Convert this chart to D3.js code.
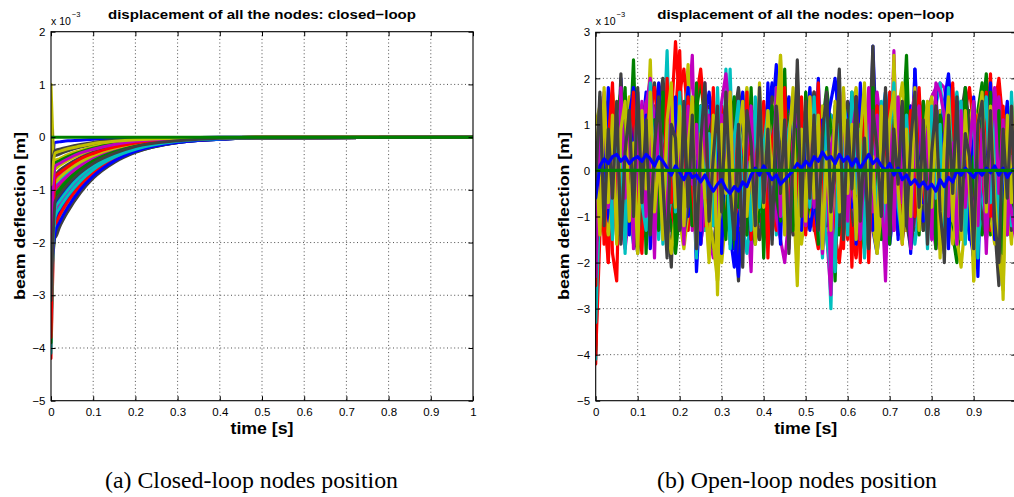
<!DOCTYPE html>
<html><head><meta charset="utf-8">
<script src="https://cdn.jsdelivr.net/npm/d3@7"></script>
<style>
html,body{margin:0;padding:0;background:#fff;}
svg{display:block;}
</style></head><body>
<svg id="chart" width="1014" height="497"></svg>
<script>
// MATLAB classic colour order: b, g, r, c, m, y, k
const colorOrder = ["#0000ff","#008000","#ff0000","#00bfbf","#bf00bf","#bfbf00","#404040"];

const xTicks = [0,0.1,0.2,0.3,0.4,0.5,0.6,0.7,0.8,0.9,1];
const xTicksOpenLabels = [0,0.1,0.2,0.3,0.4,0.5,0.6,0.7,0.8,0.9];
const yTicksClosed = [2,1,0,-1,-2,-3,-4,-5];
const yTicksOpen = [3,2,1,0,-1,-2,-3,-4,-5];

const titleClosed = "displacement of all the nodes: closed\u2212loop";
const titleOpen = "displacement of all the nodes: open\u2212loop";
const yLabel = "beam deflection [m]";
const xLabel = "time [s]";
const captionClosed = "(a) Closed-loop nodes position";
const captionOpen = "(b) Open-loop nodes position";

// closed-loop: sample times [s] and node deflections [x 1e-3 m]
const closedTimes = [0,0.01,0.02,0.04,0.07,0.1,0.15,0.2,0.3,0.4,0.5,1];
const closedNodes = [
[-1.5,-0.10,-0.09,-0.07,-0.06,-0.04,-0.03,-0.02,-0.01,0,0,0],
[-2.8,-1.85,-1.67,-1.37,-1.02,-0.76,-0.46,-0.28,-0.10,-0.04,-0.01,0],
[-4.2,-1.40,-1.26,-1.04,-0.77,-0.57,-0.35,-0.21,-0.08,-0.03,-0.01,0],
[-4.1,-1.05,-0.95,-0.78,-0.58,-0.43,-0.26,-0.16,-0.06,-0.02,-0.01,0],
[-2.8,-1.20,-1.08,-0.89,-0.66,-0.49,-0.30,-0.18,-0.07,-0.02,-0.01,0],
[1.0,-0.60,-0.54,-0.44,-0.33,-0.25,-0.15,-0.09,-0.03,-0.01,0,0],
[0.3,-0.35,-0.32,-0.26,-0.19,-0.14,-0.09,-0.05,-0.02,-0.01,0,0],
[-1.2,-1.75,-1.58,-1.30,-0.96,-0.72,-0.44,-0.26,-0.10,-0.04,-0.01,0],
[-2.2,-1.55,-1.40,-1.15,-0.85,-0.64,-0.39,-0.23,-0.09,-0.03,-0.01,0],
[-3.0,-1.30,-1.17,-0.96,-0.72,-0.53,-0.33,-0.20,-0.07,-0.03,-0.01,0],
[-3.6,-0.95,-0.86,-0.70,-0.52,-0.39,-0.24,-0.14,-0.05,-0.02,-0.01,0],
[-2.5,-0.80,-0.72,-0.59,-0.44,-0.33,-0.20,-0.12,-0.04,-0.02,-0.01,0],
[-1.1,-0.45,-0.41,-0.33,-0.25,-0.18,-0.11,-0.07,-0.02,-0.01,0,0],
[-0.4,-1.90,-1.71,-1.41,-1.05,-0.78,-0.48,-0.29,-0.10,-0.04,-0.01,0],
[-1.9,-1.60,-1.44,-1.18,-0.88,-0.66,-0.40,-0.24,-0.09,-0.03,-0.01,0],
[-3.3,-1.15,-1.04,-0.85,-0.63,-0.47,-0.29,-0.17,-0.06,-0.02,-0.01,0],
[-2.0,-1.00,-0.90,-0.74,-0.55,-0.41,-0.25,-0.15,-0.06,-0.02,-0.01,0],
[-2.9,-0.88,-0.79,-0.65,-0.48,-0.36,-0.22,-0.13,-0.05,-0.02,-0.01,0],
[-2.3,-1.45,-1.31,-1.07,-0.80,-0.59,-0.36,-0.22,-0.08,-0.03,-0.01,0],
[-1.2,-1.70,-1.53,-1.26,-0.94,-0.70,-0.43,-0.26,-0.09,-0.03,-0.01,0],
[-0.2,-0.70,-0.63,-0.52,-0.39,-0.29,-0.18,-0.11,-0.04,-0.01,0,0],
[-1.0,-1.25,-1.13,-0.93,-0.69,-0.51,-0.31,-0.19,-0.07,-0.03,-0.01,0],
[-3.9,-0.50,-0.45,-0.37,-0.28,-0.21,-0.13,-0.08,-0.03,-0.01,0,0],
[-1.6,-1.65,-1.49,-1.22,-0.91,-0.68,-0.41,-0.25,-0.09,-0.03,-0.01,0],
[-3.4,-1.35,-1.22,-1.00,-0.74,-0.55,-0.34,-0.20,-0.07,-0.03,-0.01,0],
[-2.1,-0.98,-0.88,-0.73,-0.54,-0.40,-0.25,-0.15,-0.05,-0.02,-0.01,0],
[0.5,-0.85,-0.77,-0.63,-0.47,-0.35,-0.21,-0.13,-0.05,-0.02,-0.01,0],
[-0.6,-0.25,-0.23,-0.19,-0.14,-0.10,-0.06,-0.04,-0.01,0,0,0],
[-2.6,-1.80,-1.62,-1.33,-0.99,-0.74,-0.45,-0.27,-0.10,-0.04,-0.01,0],
[-1.4,-1.10,-0.99,-0.81,-0.61,-0.45,-0.28,-0.17,-0.06,-0.02,-0.01,0],
[-3.8,-0.75,-0.68,-0.56,-0.41,-0.31,-0.19,-0.11,-0.04,-0.02,-0.01,0],
[-2.7,-1.50,-1.35,-1.11,-0.83,-0.62,-0.38,-0.23,-0.08,-0.03,-0.01,0],
[-1.8,-0.55,-0.50,-0.41,-0.30,-0.23,-0.14,-0.08,-0.03,-0.01,0,0],
[-0.9,-0.30,-0.27,-0.22,-0.17,-0.12,-0.08,-0.05,-0.02,-0.01,0,0],
[-3.1,-1.22,-1.10,-0.90,-0.67,-0.50,-0.31,-0.18,-0.07,-0.02,-0.01,0]
];

// clamped node (stays at zero) [x 1e-3 m]
const zeroTimes = [0,1];
const zeroNode = [0,0];

// open-loop: one sample every 0.01 s, values in units of 1e-4 m
const openStep = 0.01;
const openNodes = [
[-15,8,-6,12,3,-9,20,5,-4,11,-7,2,13,-10,6,9,-3,14,-12,4,10,-8,1,7,-22,-5,12,-9,3,-14,6,15,-2,9,-16,4,-11,8,13,-6,2,-10,11,23,5,-8,14,-3,-13,7,10,-5,3,16,-11,6,-15,9,-2,12,-8,4,15,-6,10,-12,27,3,-9,8,-14,11,2,-7,16,-4,22,-10,5,13,-6,9,-12,3,14,-9,7,-3,11,-15,4,-23,8,12,-5,10,-11,6,15,-8,3],
[-28,10,-4,15,-9,6,12,-7,3,24,-5,9,-12,4,14,-8,2,-13,11,6,-9,13,-3,8,-14,5,10,-6,16,-10,3,-8,12,7,-11,9,-4,14,-7,2,11,-13,6,10,-5,22,-9,4,-12,8,13,-6,2,-10,9,15,-8,-24,5,11,-7,3,12,-14,8,-4,10,-9,14,1,-6,9,-11,7,25,-3,10,-12,4,13,-8,6,-10,11,3,-13,9,-5,15,-2,7,-9,12,5,-14,8,-4,10,-11,3,9],
[-42,7,-13,10,-18,-24,12,-6,9,-15,4,13,-9,8,-4,16,-10,6,11,28,14,-7,9,-12,5,13,-3,-9,7,-11,10,-5,14,3,-10,8,-14,11,-2,6,-9,12,4,-8,15,-5,9,-11,3,10,-7,13,-3,8,-12,6,11,-16,4,-9,7,-21,12,-6,9,-13,5,10,-4,-15,8,14,-7,3,-10,11,6,-9,13,-3,9,-11,5,15,-6,10,-13,4,8,-7,12,-4,-10,7,21,-8,13,-5,9,-12,16],
[-41,9,-14,5,11,-8,13,-4,8,-12,6,-9,12,-3,10,-15,4,26,-7,11,-5,14,3,-11,9,-6,12,-10,5,8,-13,22,-4,10,-8,6,-12,13,2,-9,11,-6,8,-14,4,12,-3,9,-11,7,-5,14,-9,6,11,-7,-30,8,-12,10,-4,13,-8,5,-16,9,12,-6,3,-11,10,-7,14,-3,8,-10,6,11,-5,-13,9,4,-8,15,-6,12,-11,7,3,-9,13,-5,10,-12,6,17,-8,4,-14,11,-3],
[-28,12,-7,9,-14,5,10,-10,4,13,-6,8,-12,11,3,-9,14,-5,7,-11,9,-4,12,25,-8,6,-13,10,2,-10,13,-5,8,-12,4,11,-7,-22,9,-3,6,-11,14,-6,3,10,-9,12,-4,8,-13,5,11,-8,7,-14,-27,9,-5,12,-10,4,13,-7,8,-11,6,10,-3,-24,7,12,-9,5,-13,10,-4,14,-8,3,-10,11,6,-12,9,-5,13,-7,4,-11,8,12,-6,3,-10,14,-8,9,-13,5,11],
[10,14,-8,6,11,-13,4,9,-6,12,-10,7,3,24,-5,10,-12,8,-3,13,-7,9,5,-11,12,-4,7,-14,10,-27,6,-9,13,-3,8,-12,11,4,-8,10,-5,13,-10,6,9,-7,12,-4,-25,8,5,-11,14,-6,9,-13,3,10,-8,12,-4,7,-12,11,5,-9,13,-6,8,-10,12,3,-11,9,-5,14,-8,6,-13,10,-3,8,-10,13,-7,5,11,-12,9,-4,7,-14,12,-6,10,-9,4,-28,11,-5,8],
[3,8,13,-9,7,-4,21,-10,5,11,-7,12,-3,9,-12,6,10,-8,-21,4,13,-6,9,-11,7,3,-10,14,-5,8,-9,12,4,-7,-24,6,11,-8,3,-12,10,-5,13,-9,7,4,-11,12,-6,9,-3,11,-13,8,5,-10,12,-7,9,-4,14,-8,6,-12,10,3,27,-9,11,-6,7,-13,9,-4,12,-8,5,10,-11,6,-5,13,-9,7,3,-12,11,-6,9,-10,12,-3,8,-13,6,10,-9,5,-7,11,-4],
[-12,-6,10,-3,14,-8,2,11,-13,5,9,-4,7,15,-2,13,-9,4,10,-7,3,12,-11,6,-5,14,-8,1,-12,9,-3,10,7,-14,-23,-6,8,-10,12,2,-9,13,4,-7,11,-2,-12,8,5,-10,6,15,-4,20,-8,9,-13,3,10,-6,12,-9,2,14,-5,7,-11,16,-3,8,-10,4,13,-7,9,-14,22,6,-4,10,-8,12,3,-11,7,15,-6,2,-9,11,-3,8,-13,5,14,-7,10,-2,-12,6,9],
[-22,-8,12,5,-10,14,-3,9,-13,6,11,-5,8,-9,3,13,-7,10,-2,-11,7,12,-6,4,-10,9,2,-12,15,-4,8,-9,6,11,-5,-13,10,3,-8,12,-3,7,-11,9,5,-7,13,-10,4,8,-12,6,11,-4,9,-8,2,14,-6,-10,10,-3,7,-11,12,5,-8,9,-13,4,11,-6,8,-2,-10,13,6,-9,3,10,-7,12,-4,8,-11,5,9,-6,14,-3,-9,7,11,21,-5,10,-12,4,8,-7,12],
[-30,-10,6,-20,11,-7,3,13,-11,8,-5,9,14,-8,6,-12,10,4,-9,12,26,-6,11,3,-13,8,-4,12,-10,5,14,-7,2,10,-11,6,17,-9,4,13,-6,9,-12,7,3,-10,11,-4,14,-8,5,-11,10,2,-7,13,-14,8,-5,-17,11,-9,6,-20,12,3,-8,10,-12,7,-4,13,-10,5,9,-6,12,-3,8,-11,15,-7,4,11,-9,17,-5,10,-12,6,-8,13,3,-10,9,-14,18,-6,11,-4,7],
[-36,5,10,-9,3,-12,7,12,-6,9,-11,4,8,-7,13,2,-10,6,-4,11,-9,8,-13,5,12,-5,9,-8,3,-14,7,10,-6,13,-3,-11,8,4,-10,9,6,-7,12,-4,9,-13,3,11,-8,5,-10,9,7,-12,4,13,-6,-15,10,2,-9,12,-5,8,-19,6,11,-7,3,14,-8,5,-11,10,2,-6,13,-9,7,-3,11,-12,6,9,-4,18,-7,3,-10,12,-5,8,-13,4,10,-8,14,-6,2,-11,9],
[-25,-9,11,-5,8,-12,6,13,-8,3,10,-13,5,9,-7,12,-4,8,-10,6,-11,14,-3,7,-9,11,-6,4,12,-8,5,-10,13,-4,9,-12,7,3,-9,11,-6,8,-13,10,-3,6,12,-9,4,-7,11,-5,9,-11,13,-4,-18,7,-10,6,12,-8,3,-12,10,5,-9,13,-6,8,-11,26,-7,4,11,-10,6,-5,9,13,16,18,19,18,12,4,-8,11,-6,9,-12,7,3,-9,12,-5,8,-11,6,10,-7],
[-11,-7,10,-12,5,13,-4,8,-9,11,3,-10,9,-6,12,-8,5,14,-11,7,-4,10,23,-8,6,-13,11,-5,9,-15,4,12,-7,10,-11,5,8,-14,13,-3,9,-8,11,-5,25,-10,6,12,-16,4,-9,13,-6,10,-12,7,3,-11,9,-4,14,-7,11,-10,5,12,-8,9,-3,11,-12,25,-6,8,-10,13,4,-9,11,-5,8,-13,10,6,-11,12,-7,3,-10,9,-24,11,-5,13,-9,7,-12,10,-4,14,-8],
[-4,11,-8,5,13,-10,7,-5,9,12,-9,6,10,-13,4,8,-6,12,3,-10,9,-5,13,-8,6,11,-12,4,10,-7,5,-11,12,-6,9,-3,13,-10,7,4,-9,12,-5,8,-11,6,10,-7,24,-4,8,-12,11,5,-8,13,-6,9,22,-10,6,11,-9,4,-12,8,13,-5,10,-8,3,12,-10,7,-6,11,-13,9,4,-9,12,-5,8,-20,10,6,-11,13,-7,4,-10,9,12,-6,7,-12,-25,10,-8,12,5],
[-19,5,-8,3,9,-4,-10,7,2,-6,8,-11,4,-3,10,-7,6,1,-9,5,-2,9,-6,11,-4,3,-8,7,-12,2,6,-5,10,-9,4,8,-3,-10,5,9,-6,3,11,-8,7,-2,12,-5,1,-9,8,4,-7,10,-3,-11,6,9,-4,2,-8,11,5,-6,3,9,-10,7,-2,12,-5,6,-9,8,2,-7,10,-4,11,-8,4,-3,9,-10,6,12,-5,3,-7,8,-12,5,10,-4,-9,7,2,-11,9,-3,6],
[-33,4,9,-7,2,-10,6,11,-4,8,-9,3,12,-6,-11,7,4,-8,10,-2,9,-5,6,-10,11,3,-7,8,-3,-12,5,10,-6,2,9,-11,7,-4,12,-8,3,8,-10,6,-2,11,-9,4,7,-5,10,-7,3,12,-11,5,-4,8,-14,6,9,-6,11,2,-9,7,-3,12,-8,4,-11,6,9,-5,3,-8,10,-2,7,-10,12,-4,5,-9,8,2,-12,10,-6,3,9,-7,4,11,-10,6,-3,8,-9,12,-4],
[-20,6,-9,-20,8,-5,11,-13,4,9,-7,12,-3,6,-10,8,2,-11,10,-5,7,-8,13,-4,9,-12,5,10,-6,3,-9,11,-3,7,-12,6,10,-5,8,-10,4,12,-7,2,-9,11,-4,8,-13,6,10,-3,7,-11,12,-6,4,-9,8,-14,5,-12,9,-5,11,-8,3,13,-10,6,-2,10,-9,7,-13,4,11,-6,9,-4,8,-12,13,-7,3,10,-9,6,-11,5,12,-5,8,-10,4,16,-8,11,-3,9,-6],
[-29,7,-5,10,-8,3,9,-11,6,4,-7,10,-3,8,-12,5,11,-6,2,-9,12,-4,7,-10,3,9,-7,11,-5,6,-11,4,9,-6,12,-3,7,-10,8,2,-8,11,-5,6,10,-12,4,-7,9,3,-10,7,12,-4,8,-9,5,-13,11,-2,6,-11,9,4,-7,12,-5,8,-10,3,11,-6,7,-9,13,2,-8,10,-4,6,-12,9,3,-7,11,-5,8,-10,12,-2,5,-9,10,-6,3,11,-8,7,-12,4,10],
[-23,4,-10,7,2,-8,11,-5,9,-3,6,-11,8,3,-7,10,-9,5,12,-4,8,-6,3,11,-10,6,-4,9,-12,7,2,-9,11,-5,8,-13,4,10,-7,6,-11,9,3,-8,12,-4,7,-10,5,11,-6,8,-12,4,10,-9,6,-7,13,-3,9,-10,5,12,-6,3,-11,8,-4,10,-7,6,-12,9,3,-8,11,-5,7,-10,4,12,-9,6,-3,10,-7,8,-12,5,11,-6,3,-10,8,-4,12,-9,6,-2,8],
[-12,6,-9,11,-4,8,-7,3,10,-11,5,9,-6,12,-3,-10,7,4,-8,11,-5,8,-12,6,10,-7,3,12,-9,5,-4,11,-10,7,2,-8,12,-6,9,-11,4,10,-7,13,-5,8,-12,6,3,-9,11,-4,7,-10,9,5,-13,10,-6,8,-3,12,-9,6,11,-7,4,-10,13,-5,8,-11,10,3,-6,12,-9,7,-4,11,-8,5,10,-12,6,-3,9,-10,12,-6,4,11,-8,7,-12,9,-5,13,-7,6,-10],
[-2,9,-6,4,10,-9,3,11,-7,6,-10,8,-4,12,-7,5,9,-11,7,2,-8,11,-5,9,3,-12,7,-6,10,-3,8,-10,6,12,-8,-14,5,11,-7,9,-4,7,-11,10,6,-9,12,-3,8,-12,5,10,-7,9,-5,13,-10,4,11,-8,7,-12,9,3,-9,11,-6,8,-4,12,-10,6,9,-8,12,-5,3,-11,10,-7,8,4,-12,11,-6,9,-9,6,12,-4,-8,10,-5,7,-11,12,3,-9,8,-14,6],
[-10,7,-4,9,-12,5,11,-6,8,-3,12,-9,4,10,-7,13,-2,-11,6,9,-5,12,-8,3,10,-13,7,-4,11,-9,5,8,-12,6,-3,10,-7,12,-10,4,9,-6,13,-3,7,-11,5,10,-8,2,12,-9,6,-4,11,-12,3,8,-7,13,-5,9,-10,4,12,-6,7,-13,10,-3,8,-9,11,5,-7,12,-4,9,-11,6,3,-10,12,-6,8,-12,4,10,-5,13,-8,6,-3,11,-9,7,12,-6,4,-10,8],
[-39,10,-6,8,-11,4,13,-8,6,-12,9,3,-10,12,-5,7,-13,10,2,-8,11,-6,9,-12,4,14,-7,5,-10,11,-3,8,-13,6,10,-9,4,12,-6,-11,7,13,-5,9,-12,3,10,-8,6,-4,12,-10,5,8,-13,11,-3,7,-9,12,4,-11,10,-6,9,-3,13,-8,5,-12,10,-5,7,-13,11,3,-9,12,-6,8,-11,5,13,-7,4,-10,9,-4,12,-8,6,-12,10,3,-9,11,-6,8,-13,5,9],
[-16,-5,11,-9,6,12,-4,9,-13,7,3,-10,11,-6,13,-8,5,9,-12,4,10,-7,12,-3,8,-11,6,13,-9,2,-8,11,-5,9,-12,7,4,-10,12,-6,8,-13,5,10,-4,12,-9,6,-11,9,3,-7,13,-10,6,-4,11,-12,8,-5,12,-8,4,-11,10,-6,9,-3,13,-10,6,11,-7,3,-12,9,-5,10,-8,12,-4,7,-13,11,-6,9,4,-10,8,-3,13,-9,6,-5,11,-12,7,3,-8,10,-6],
[-34,8,-11,6,10,-5,12,-9,3,11,-7,9,-12,5,8,-4,13,-10,7,-6,11,4,-9,12,-7,6,-13,9,3,-10,12,-5,22,-8,6,-11,10,-4,8,-12,5,11,-7,13,-3,-10,9,6,-12,8,-6,10,-9,4,12,-8,-14,11,-5,7,-11,9,3,-13,-12,8,5,-7,12,-4,10,-9,6,12,-10,3,11,-7,8,-5,-9,12,4,-11,7,-3,13,-8,6,-12,9,-6,11,-10,5,8,-4,12,-7,10,-9],
[-21,9,-7,12,-4,8,-10,6,13,-8,4,-12,10,-5,7,11,-9,3,-6,12,-10,8,5,-13,11,-3,9,-7,12,-11,6,-4,10,-9,13,-6,3,-12,8,5,-8,11,-3,7,-10,12,-5,9,-13,6,10,-8,4,-11,13,-7,-16,10,-4,8,-12,6,11,-3,9,-10,7,-5,12,-9,4,10,-8,13,-6,9,-12,5,-3,11,-9,7,12,-5,8,-11,3,10,-7,13,-4,9,-12,6,11,-8,5,-10,12,-6,7],
[5,12,-9,6,-3,11,-8,10,-12,4,9,-6,13,-10,7,-4,12,-8,5,11,-7,9,-12,4,10,-6,13,-9,3,-14,8,-5,11,-10,6,9,-4,12,-8,5,-11,10,3,-7,25,-9,6,11,-13,4,9,-5,12,-8,7,-11,10,4,-9,13,-6,8,-12,5,10,-3,9,-7,12,-10,6,11,-5,8,-13,9,-4,12,-7,3,10,-9,6,-12,11,-5,8,-10,4,12,-24,7,9,-6,13,-8,5,-11,10,-14,6],
[-6,10,-7,4,12,-9,6,-5,11,-8,3,13,-10,7,-4,9,-12,5,10,-6,8,-11,12,-3,6,-9,11,4,-10,7,-5,12,-8,9,-13,5,10,-6,8,-11,4,-7,13,-9,6,11,-4,8,-12,10,-3,7,-10,12,-6,9,-13,4,11,-8,6,-11,10,-5,13,-7,3,-10,12,-4,9,-12,6,8,-9,11,-5,7,-13,10,3,-8,12,-6,9,-10,5,11,-7,4,-12,10,-3,8,-9,13,-6,5,-11,12,-5],
[-26,-4,9,-11,6,13,-7,4,-10,8,11,-5,7,-12,10,3,-8,12,-6,9,-13,6,10,-4,8,-11,12,-7,5,-9,11,3,-10,13,-6,8,-12,4,9,-7,12,-5,6,-10,11,-8,3,13,-9,7,-4,10,-12,8,5,-11,12,-6,9,-3,13,-9,6,-7,11,4,-12,10,-5,8,-10,7,12,-4,9,-13,6,10,-8,3,11,-6,8,-12,5,13,-7,4,-11,9,-5,12,-9,7,3,-10,11,-6,8,-12,5],
[-14,6,-10,8,3,-12,9,-5,11,-7,12,-4,8,-11,6,10,-8,13,-3,7,-9,11,5,-12,8,-6,10,-10,4,12,-7,9,-4,13,-11,6,3,-9,11,-5,8,-12,10,-6,4,12,-9,7,-3,11,-10,5,9,-7,13,-4,8,-12,6,10,-5,12,-8,3,-11,9,-6,11,4,-9,13,-7,5,-10,12,-3,8,-12,9,-6,7,4,-11,10,-8,12,-5,6,-9,13,-3,8,-12,11,-6,9,4,-10,7,-8,12],
[-38,11,-8,5,-12,9,-6,12,3,-10,8,-4,13,-9,6,-11,10,-5,7,12,-8,5,-13,9,11,-6,4,-10,12,-7,9,-3,11,-12,6,8,-9,13,-5,4,-11,10,-6,12,-4,8,-13,7,5,-9,11,-7,3,-12,10,6,-8,12,-5,9,-10,4,-15,8,-6,11,-12,5,9,-4,13,-8,7,-11,10,-5,12,-9,3,8,-12,6,11,-7,9,-4,13,-10,5,-8,12,-6,8,-11,4,10,-9,7,-13,11,-3],
[-27,5,12,-8,9,-5,10,-12,7,4,-9,11,-6,8,-13,12,-3,9,-10,6,10,-7,4,12,-11,8,-5,13,-8,3,-10,9,-6,11,5,-12,8,-3,10,-9,6,12,-8,4,-11,10,-5,9,-13,7,11,-4,8,-10,6,-9,12,-7,5,-12,9,3,-11,10,-6,13,-8,4,-9,12,-5,8,-12,6,11,-4,9,-10,7,-13,10,-6,3,12,-9,7,-11,5,13,-7,4,-10,9,-5,12,-8,6,-12,11,-3,8],
[-18,-8,11,-4,9,-12,6,10,-7,13,-5,8,-11,4,12,-9,7,-3,10,-12,6,11,-8,5,-13,9,-4,12,-6,8,-10,13,-5,7,-12,4,11,-9,6,-3,10,-8,12,-6,5,-11,9,3,-10,13,-7,6,-12,11,-4,8,-9,13,-5,7,-11,10,4,-8,12,-6,9,-13,7,-3,11,-9,5,12,-7,4,-10,13,-6,8,-12,9,6,-5,11,-8,3,-13,10,-4,7,12,-9,5,-11,10,-6,8,-12,4,11],
[-9,11,-6,9,-13,7,4,-10,12,-5,8,-12,6,10,-8,3,-11,13,-7,9,-4,12,-9,6,-12,8,5,-10,11,-6,9,-13,3,-11,7,12,-5,8,-10,4,-9,11,6,-12,10,-4,8,-11,13,-7,5,-10,12,-6,9,-3,11,-13,7,4,-8,12,-5,10,-11,6,-9,13,-4,8,-12,9,5,-7,11,-10,12,-6,3,-11,10,-4,13,-8,6,-12,9,-5,11,-9,7,-13,12,-4,8,-10,6,11,-7,-16,9],
[-31,8,-12,5,10,-7,12,-4,9,-11,6,-8,13,-5,9,-10,4,11,-13,7,-6,10,-3,12,-9,5,8,-11,13,-4,9,-10,6,-7,12,-13,5,10,-8,3,11,-6,9,-12,7,4,-10,13,-5,8,-9,12,-4,6,-11,10,-7,3,-12,9,5,-10,12,-8,11,-4,7,-12,9,-6,13,-5,8,-11,6,10,-9,4,-13,12,-7,10,-4,9,-12,6,11,-8,5,-10,12,-3,9,-11,7,-6,13,-9,4,-13,10],
[-20,-3,2,6,9,4,-2,-6,-3,1,5,8,17,6,2,-4,-9,-5,0,4,7,3,-1,-5,-10,-16,-8,-3,2,5,9,14,6,1,-3,-7,-12,-6,-1,3,8,12,19,10,4,-2,-5,-9,-4,0,6,10,5,1,-6,-11,-7,-2,3,7,11,16,8,3,-2,-8,-13,-18,-9,-4,1,5,9,13,7,2,-3,-7,-11,-6,-1,4,8,15,21,10,3,-4,-9,-14,-7,-2,3,7,11,6,0,-5,-10,-4,2],
[-24,4,9,13,7,2,-4,-8,-12,-6,-1,3,7,2,-3,-8,-5,0,6,11,16,9,4,-2,-7,-3,2,8,12,5,-1,-6,-11,-17,-10,-4,1,6,3,-2,-5,-9,-4,3,8,14,7,2,-3,-8,-13,-6,0,5,10,18,9,3,-2,-7,-4,1,7,12,5,-1,-6,-10,-15,-8,-2,4,9,15,8,2,-5,-9,-4,1,6,11,4,-2,-8,-14,-20,-9,-3,3,8,13,19,9,2,-4,-9,-5,0,6,3],
[-35,-8,-3,2,7,12,6,1,-5,-10,-15,-7,-2,4,9,5,0,-4,3,10,17,22,11,4,-3,-8,-12,-6,-1,5,10,6,1,-4,-9,-5,2,7,13,8,3,-2,-7,-13,-8,-3,2,6,11,5,-1,-6,-12,-17,-9,-3,3,8,4,-2,-8,-14,-19,-10,-4,2,7,12,6,1,-4,-9,-5,1,6,10,15,8,2,-3,-7,-12,-6,0,5,9,4,-1,-6,-11,-16,-8,-2,4,9,14,20,10,3,-2,-6],
[-30,-12,-6,0,5,9,14,8,2,-3,-8,-4,1,6,11,18,9,3,-2,-6,-11,-5,0,5,3,-1,-7,-12,-18,-9,-3,2,7,11,6,1,-4,-8,-3,2,7,12,5,-1,-5,-10,-6,-1,4,9,13,7,1,-4,-9,-15,-22,-10,-4,1,6,10,15,8,3,-3,-8,-13,-7,-2,3,8,4,-1,-6,-11,-16,-8,-2,4,9,14,19,10,4,-2,-7,-3,2,6,11,5,0,-5,-9,-14,-7,-1,4,9,13],
[-22,-5,3,8,4,-1,-6,-11,-7,-2,4,9,14,20,10,3,-3,-8,-13,-6,-1,5,10,6,1,-4,-9,-14,-19,-9,-3,2,8,4,-2,-7,-12,-6,0,5,10,15,8,2,-4,-9,-5,1,6,12,7,1,-5,-10,-15,-8,-2,4,9,5,0,-6,-11,-6,0,6,11,17,9,2,-4,-9,-14,-7,-1,5,10,6,1,-5,-10,-17,-9,-3,3,8,13,7,1,-4,-9,-13,-7,-1,5,10,16,8,2,-3,-8],
[6,-4,-9,-14,-7,-1,5,10,16,9,3,-3,-8,-4,2,7,12,6,0,-6,-11,-17,-9,-3,3,8,4,-2,-7,-13,-20,-10,-4,2,7,12,18,9,3,-2,-7,-3,2,6,11,5,-1,-6,-11,-16,-8,-2,4,9,14,7,1,-4,-9,-5,1,6,11,5,-1,-7,-12,-18,-9,-3,3,8,13,19,9,2,-4,-9,-5,0,5,10,6,1,-5,-10,-15,-21,-11,-4,2,7,12,6,0,-5,-10,-16,-8,-2,4],
[-8,5,10,15,8,2,-3,-8,-13,-7,-2,3,8,13,19,10,4,-2,-7,-12,-6,0,5,10,5,-1,-6,-11,-17,-8,-2,4,9,14,7,1,-4,-9,-5,1,6,11,16,8,2,-3,-9,-14,-8,-2,4,9,5,-1,-6,-12,-7,-1,5,10,15,8,2,-3,-8,-4,2,7,13,6,0,-5,-10,-15,-8,-2,4,9,15,8,1,-4,-9,-4,2,7,12,6,0,-6,-11,-6,0,5,10,16,8,2,-4,-9,-14],
[-16,2,6,-3,-9,-5,1,7,12,18,9,3,-3,-8,-13,-7,-1,5,10,6,0,-5,-10,-5,1,6,12,17,8,2,-4,-9,-14,-21,-10,-4,2,8,4,-1,-6,-11,-6,0,6,11,16,8,2,-3,-8,-13,-7,-1,5,10,15,20,10,3,-3,-8,-4,2,7,12,6,0,-6,-11,-16,-8,-2,4,9,14,7,1,-5,-10,-5,1,6,12,17,9,3,-3,-8,-13,-19,-9,-3,3,8,13,7,1,-4,-9,-3],
[-28,-10,-4,2,7,12,17,8,2,-4,-9,-5,1,6,11,5,-1,-6,-12,-18,-9,-3,3,8,13,20,10,3,-3,-8,-4,2,7,12,6,0,-6,-11,-16,-8,-2,4,9,5,-1,-6,-11,-6,0,6,11,17,9,2,-4,-9,-5,1,7,12,6,0,-6,-11,-17,-8,-2,4,9,14,8,1,-5,-10,-5,1,6,11,6,0,-6,-11,-16,-9,-2,4,10,15,8,2,-4,-9,-14,-7,-1,5,10,6,0,-5,-10],
[-40,-14,-7,-1,5,10,6,0,-5,-10,-4,2,8,13,18,9,3,-3,-8,-13,-7,-1,5,11,16,22,11,4,-2,-7,-12,-6,0,6,11,6,0,-5,-10,-15,-8,-2,4,9,5,-1,-6,-11,-6,0,6,12,17,9,3,-3,-8,-14,-20,-10,-4,2,8,4,-2,-7,-12,-7,-1,5,11,6,0,-5,-10,-16,-8,-2,4,9,15,8,2,-4,-9,-4,2,7,13,18,9,3,-3,-8,-13,-7,-1,5,10,5,-1],
[-33,-6,2,8,14,7,1,-5,-10,-16,-8,-2,4,9,5,-1,-6,-11,-6,0,6,12,18,9,2,-4,-9,-14,-7,-1,5,11,6,0,-6,-12,-18,-9,-3,3,9,14,7,1,-5,-10,-5,1,7,13,6,0,-6,-11,-17,-8,-2,4,10,15,8,2,-4,-9,-14,-7,-1,5,11,17,9,2,-4,-10,-5,1,7,12,6,0,-6,-11,-6,0,6,11,17,9,2,-4,-9,-15,-8,-2,4,9,5,-1,-7,-12,-6],
[-19,7,12,6,0,-6,-11,-17,-9,-2,4,10,15,8,2,-4,-9,-5,1,7,12,6,0,-5,-11,-16,-8,-2,4,9,15,21,10,3,-3,-8,-4,2,7,13,7,1,-5,-10,-15,-20,-10,-3,3,8,4,-2,-7,-13,-7,-1,5,10,16,8,2,-4,-9,-14,-7,-1,5,11,6,0,-6,-11,-6,0,6,11,17,9,2,-4,-9,-15,-8,-2,4,10,15,8,2,-4,-10,-5,1,7,12,18,9,2,-4,-9,-15],
[-14,-2,5,11,17,9,2,-4,-9,-14,-7,-1,5,10,5,-1,-7,-12,-18,-9,-2,4,10,15,8,1,-5,-10,-16,-24,-11,-4,2,8,13,7,1,-5,-10,-6,0,6,11,16,8,2,-4,-10,-15,-8,-2,4,9,14,7,0,-6,-11,-6,0,6,12,18,9,2,-4,-9,-15,-8,-1,5,11,6,-1,-7,-12,-7,-1,5,11,16,8,2,-4,-10,-16,-8,-2,4,10,15,8,1,-5,-10,-16,-8,-2,4,9,14],
[-5,-12,-6,0,6,11,6,0,-6,-12,-18,-9,-3,3,9,14,20,10,3,-3,-8,-14,-7,-1,5,11,6,0,-6,-11,-6,0,6,12,18,9,2,-4,-10,-15,-8,-2,4,10,5,-1,-7,-12,-7,-1,5,11,17,9,2,-4,-9,-15,-8,-2,4,10,16,8,2,-4,-10,-5,1,7,13,7,0,-6,-11,-17,-9,-2,4,10,6,0,-6,-12,-6,0,6,12,18,9,2,-4,-10,-15,-8,-2,4,10,5,-1,-7],
[-13,15,-6,18,4,-11,16,-2,-14,9,17,-5,12,-17,3,19,-8,11,-4,16,-12,6,18,-9,2,-16,13,-6,15,-3,-18,8,14,-10,5,17,-7,-15,10,4,-12,19,-5,9,-16,14,3,-9,16,-13,7,18,-6,-14,11,2,-17,13,-8,15,-4,10,-16,19,-9,5,-13,14,-2,17,-11,8,-15,12,4,-18,9,16,-7,3,-14,18,-5,11,-17,7,15,-10,2,-13,16,-8,12,-4,19,-15,6,-11,14,-6,10],
[-17,-9,16,-4,12,-15,7,18,-11,3,-6,14,-18,9,5,-13,17,-2,11,-16,8,-5,15,-12,19,-7,4,-17,10,13,-3,-15,9,16,-8,2,-14,18,-6,11,-19,7,14,-4,-11,16,5,-13,9,-8,17,-3,12,-16,6,14,-10,-19,8,3,-12,17,-7,10,-15,4,18,-9,13,-5,-16,11,2,-13,19,-6,9,-14,15,-2,6,-17,12,8,-10,16,-4,-12,18,-7,3,-15,11,-9,17,-5,13,-18,7,10,-11],
[-25,12,-16,6,19,-8,14,-12,3,17,-9,-18,8,15,-5,11,-14,20,-7,4,13,-11,16,-3,-17,9,6,-13,18,-10,5,14,-16,2,12,-8,17,-15,9,-4,15,-19,7,11,-6,18,-12,3,-9,16,-14,10,-5,19,-11,7,-2,-18,13,8,-15,4,16,-9,12,-20,6,14,-4,-13,17,-7,10,-16,5,13,-10,18,-3,-12,9,15,-17,6,-8,19,-13,4,11,-6,-16,12,-2,17,-10,8,-15,14,-5,11,-9],
[-21,16,-10,4,-15,13,8,-18,11,-3,15,-7,-13,19,-5,9,-16,6,12,-9,17,-14,3,10,-19,14,-6,8,-12,18,-4,11,-17,7,15,-9,2,-13,16,-8,5,13,-15,18,-6,-11,9,14,-17,4,11,-8,16,-3,-19,12,-7,-22,10,6,-14,17,-5,9,-18,13,3,-10,15,-12,7,19,-8,-15,12,-4,16,-11,8,-17,14,-6,10,-13,18,-2,-9,15,-16,5,12,-19,8,16,-7,11,-14,4,-10,17,-5],
[-23,11,17,-8,5,-14,18,-6,12,-17,4,15,-10,7,-19,13,2,-12,16,-5,9,-16,14,-3,10,-13,19,-8,6,-15,12,-4,17,-11,8,-18,5,14,-9,16,-7,3,-14,18,-10,11,-17,6,15,-4,-12,16,-8,9,-18,4,-24,13,-6,17,-11,8,14,-15,3,18,-9,12,-5,-19,10,-13,16,-7,5,-17,11,14,-3,9,-15,19,17,12,-10,6,-16,13,-8,4,15,-12,9,-18,7,16,-5,11,-14,3,-10],
[4,-14,18,-7,12,-16,9,15,-11,6,-18,13,-4,17,-9,3,-15,11,19,-8,14,-12,5,16,-17,8,-6,-20,12,-24,10,-5,17,-13,7,15,-10,3,-16,19,-8,13,-3,11,24,-14,6,18,-22,9,-11,16,-6,12,-17,4,-13,15,-9,18,-5,10,-15,7,19,-12,3,-18,14,-7,11,17,-4,-16,9,-10,18,-13,6,15,-8,12,-19,5,16,-11,8,-15,13,-4,-21,10,17,-9,14,-6,-18,-26,12,-7,16],
[-3,17,-12,9,-6,15,-16,4,13,-10,18,-7,11,-14,5,16,-3,-19,10,7,-13,15,-8,12,-17,6,19,-11,3,14,-9,17,-4,-15,10,-21,13,6,-12,18,-7,9,-16,14,-5,11,-18,4,21,-10,15,-6,12,-13,8,17,-9,3,19,-15,11,-4,16,-11,7,-17,13,5,-10,18,-14,9,-3,15,-12,6,17,-8,11,-16,4,14,-9,-18,12,-5,16,-13,8,3,-17,10,15,-7,13,-11,-20,9,-6,14,-12]
];
// small-amplitude node near the clamp, units of 1e-4 m
const openSmall = [-6,1,2.5,1.5,3,3.5,2,3,1.5,2.5,3,2,3.5,2.5,1,3,2,0.5,-1,1,-0.5,-2,0,-1.5,-1,-2.5,-1,-3,-4.5,-3,-2,-4,-5,-3.5,-4.5,-2.5,-3.5,-1,0.5,-1,1,-0.5,-2,-1,-3,-2,-1,0,1.5,0.5,2,1,3,2,4,2.5,3,1.5,3.5,2,3,1,2.5,0.5,2,3.5,1.5,2.5,1,0,1.5,-1,0.5,-2,-1,-3,-2,-3.5,-2.5,-4,-3,-4.5,-2,-3.5,-1.5,-2.5,0,-1,0.5,-0.5,-1.5,0,-1,0.5,-0.5,1,-1,0.5,-1.5,0,0.5];

const svg = d3.select("#chart");
const fmt = d3.format("~g");
const sansFont = "Liberation Sans, Arial, Helvetica, sans-serif";
const serifFont = "Liberation Serif, Times New Roman, Times, serif";

function drawPanel(p) {
  const x = d3.scaleLinear().domain([0, 1]).range([p.x0, p.x1]);
  const y = d3.scaleLinear().domain([p.yTicks[p.yTicks.length - 1], p.yTicks[0]]).range([p.yB, p.yT]);
  const g = svg.append("g");

  // grid
  const grid = g.append("g").attr("stroke", "#222").attr("stroke-width", 0.8).attr("stroke-dasharray", "1,2.6");
  grid.selectAll("line.gx").data(xTicks.filter(d => d > 0 && d < 1)).join("line").attr("class","gx")
    .attr("x1", d => x(d)).attr("x2", d => x(d)).attr("y1", p.yT).attr("y2", p.yB);
  grid.selectAll("line.gy").data(p.yTicks.filter((d, i) => i > 0 && i < p.yTicks.length - 1)).join("line").attr("class","gy")
    .attr("y1", d => y(d)).attr("y2", d => y(d)).attr("x1", p.x0).attr("x2", p.x1);

  // clip
  svg.append("clipPath").attr("id", "clip" + p.id).append("rect")
    .attr("x", p.x0).attr("y", p.yT).attr("width", p.x1 - p.x0).attr("height", p.yB - p.yT);
  const lg = g.append("g").attr("clip-path", `url(#clip${p.id})`)
    .attr("fill", "none").attr("stroke-width", p.lineWidth).attr("stroke-linejoin", "round").attr("stroke-linecap", "round");
  p.draw(lg, x, y);

  // axes (ticks pointing inward, MATLAB style)
  const styleAxis = sel => {
    sel.select(".domain").remove();
    sel.selectAll("line").attr("stroke", "#000").attr("stroke-width", 1);
    sel.selectAll("text").attr("fill", "#000").style("font-family", sansFont).style("font-size", "11.5px");
  };
  g.append("g").attr("transform", `translate(0,${p.yB})`)
    .call(d3.axisBottom(x).tickValues(p.xLabels).tickSize(-4.5).tickPadding(7.5).tickFormat(fmt)).call(styleAxis);
  g.append("g").attr("transform", `translate(0,${p.yT})`)
    .call(d3.axisTop(x).tickValues(xTicks).tickSize(-4.5).tickFormat("")).call(styleAxis);
  g.append("g").attr("transform", `translate(${p.x0},0)`)
    .call(d3.axisLeft(y).tickValues(p.yTicks).tickSize(-4.5).tickPadding(5.5).tickFormat(fmt)).call(styleAxis);
  g.append("g").attr("transform", `translate(${p.x1},0)`)
    .call(d3.axisRight(y).tickValues(p.yTicks).tickSize(-4.5).tickFormat("")).call(styleAxis);

  // box
  g.append("rect").attr("x", p.x0).attr("y", p.yT).attr("width", p.x1 - p.x0).attr("height", p.yB - p.yT)
    .attr("fill", "none").attr("stroke", "#000").attr("stroke-width", 1.1);

  // exponent label
  const ex = g.append("text").attr("x", p.x0).attr("y", 25).style("font-family", sansFont).style("font-size", "10.5px").attr("fill", "#000");
  ex.append("tspan").text("x 10");
  ex.append("tspan").attr("dy", -8).attr("dx", 1).style("font-size", "7.5px").text("\u22123");

  // title
  const cx = (p.x0 + p.x1) / 2;
  g.append("text").attr("x", cx).attr("y", 19.3).attr("text-anchor", "middle")
    .style("font-family", sansFont).style("font-weight", "bold").style("font-size", "13.5px")
    .attr("textLength", p.titleLen).attr("lengthAdjust", "spacingAndGlyphs").text(p.title);
  // x label
  g.append("text").attr("x", cx).attr("y", 434.3).attr("text-anchor", "middle")
    .style("font-family", sansFont).style("font-weight", "bold").style("font-size", "16px")
    .attr("textLength", 63).attr("lengthAdjust", "spacingAndGlyphs").text(xLabel);
  // y label
  g.append("text").attr("transform", `translate(${p.yLabX},216) rotate(-90)`).attr("text-anchor", "middle")
    .style("font-family", sansFont).style("font-weight", "bold").style("font-size", "15px")
    .attr("textLength", 168).attr("lengthAdjust", "spacingAndGlyphs").text(yLabel);
  // caption
  g.append("text").attr("x", p.capX).attr("y", 487.5).attr("text-anchor", "middle")
    .style("font-family", serifFont).style("font-size", "24px")
    .attr("textLength", p.capLen).attr("lengthAdjust", "spacingAndGlyphs").text(p.caption);
}

drawPanel({
  id: "A", x0: 51, x1: 473, yT: 31.7, yB: 400.7, yTicks: yTicksClosed, xLabels: xTicks, lineWidth: 3,
  title: titleClosed, titleLen: 308, yLabX: 24.5, capX: 251.5, capLen: 293, caption: captionClosed,
  draw: (lg, x, y) => {
    const line = d3.line().x((d, i) => x(closedTimes[i])).y(d => y(d)).curve(d3.curveMonotoneX);
    lg.selectAll("path.n").data(closedNodes).join("path").attr("class", "n")
      .attr("stroke", (d, i) => colorOrder[i % 7]).attr("d", line);
    const zl = d3.line().x((d, i) => x(zeroTimes[i])).y(d => y(d));
    lg.append("path").attr("stroke", colorOrder[1]).attr("d", zl(zeroNode));
  }
});

drawPanel({
  id: "B", x0: 595.7, x1: 1015.7, yT: 32.3, yB: 400.7, yTicks: yTicksOpen, xLabels: xTicksOpenLabels, lineWidth: 3.2,
  title: titleOpen, titleLen: 297, yLabX: 568.5, capX: 797, capLen: 280, caption: captionOpen,
  draw: (lg, x, y) => {
    const line = d3.line().x((d, i) => x(i * openStep)).y(d => y(d / 10));
    lg.selectAll("path.n").data(openNodes).join("path").attr("class", "n")
      .attr("stroke", (d, i) => colorOrder[i % 7]).attr("d", line);
    lg.append("path").attr("stroke", colorOrder[openNodes.length % 7]).attr("d", line(openSmall));
    const zl = d3.line().x((d, i) => x(zeroTimes[i])).y(d => y(d));
    lg.append("path").attr("stroke", colorOrder[1]).attr("d", zl(zeroNode));
  }
});
</script>
</body></html>
